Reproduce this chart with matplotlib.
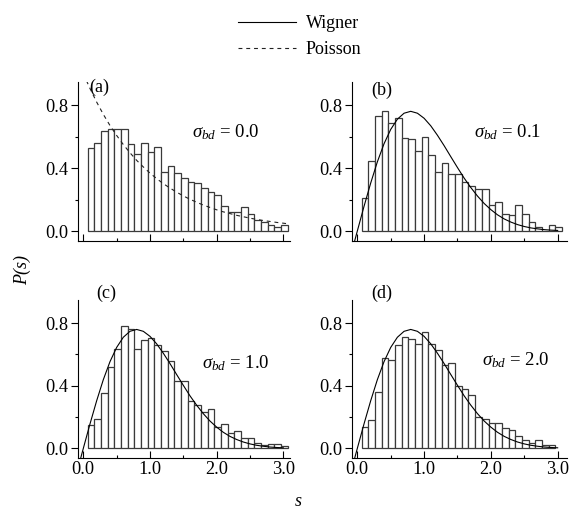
import matplotlib
matplotlib.use("Agg")
import matplotlib.pyplot as plt
from matplotlib.ticker import MultipleLocator, FormatStrFormatter
import numpy as np

plt.rcParams['font.family'] = ['Liberation Serif', 'DejaVu Serif']
plt.rcParams['mathtext.fontset'] = 'custom'
plt.rcParams['mathtext.rm'] = 'Liberation Serif'
plt.rcParams['mathtext.it'] = 'Liberation Serif:italic'

# ---- data ----
bars_a = [0.525, 0.557, 0.635, 0.645, 0.645, 0.645, 0.55, 0.49, 0.56, 0.50,
          0.535, 0.377, 0.41, 0.37, 0.34, 0.31, 0.307, 0.275, 0.245, 0.23,
          0.16, 0.123, 0.123, 0.15, 0.106, 0.068, 0.06, 0.036, 0.023, 0.04]
bars_b = [0.212, 0.446, 0.73, 0.76, 0.684, 0.718, 0.59, 0.584, 0.51, 0.60,
          0.48, 0.378, 0.435, 0.36, 0.36, 0.31, 0.287, 0.268, 0.268, 0.163,
          0.185, 0.11, 0.104, 0.166, 0.106, 0.06, 0.023, 0.0, 0.038, 0.025]
bars_c = [0.149, 0.185, 0.352, 0.518, 0.633, 0.78, 0.76, 0.633, 0.693, 0.704,
          0.66, 0.62, 0.56, 0.43, 0.43, 0.30, 0.28, 0.232, 0.254, 0.139,
          0.154, 0.096, 0.113, 0.066, 0.068, 0.036, 0.021, 0.028, 0.028, 0.015]
bars_d = [0.139, 0.18, 0.36, 0.58, 0.563, 0.66, 0.714, 0.697, 0.67, 0.744,
          0.67, 0.63, 0.535, 0.548, 0.40, 0.38, 0.34, 0.20, 0.19, 0.164,
          0.164, 0.132, 0.12, 0.08, 0.053, 0.032, 0.053, 0.02, 0.02]

curve_s = [-0.04, 0.0, 0.1, 0.2, 0.3, 0.4, 0.5, 0.6, 0.7, 0.8, 0.9, 1.0,
           1.1, 1.2, 1.3, 1.4, 1.5, 1.6, 1.7, 1.8, 1.9, 2.0, 2.1, 2.2,
           2.3, 2.4, 2.5, 2.6, 2.7, 2.8, 2.9, 3.0]
wigner = [-0.063, 0.0, 0.156, 0.304, 0.439, 0.554, 0.645, 0.710, 0.748, 0.760,
          0.748, 0.716, 0.668, 0.608, 0.542, 0.472, 0.403, 0.336, 0.276,
          0.222, 0.175, 0.136, 0.103, 0.077, 0.057, 0.041, 0.029, 0.020,
          0.014, 0.009, 0.006, 0.004]
poisson_s = [0.0, 0.1, 0.2, 0.3, 0.4, 0.5, 0.6, 0.7, 0.8, 0.9, 1.0, 1.1,
             1.2, 1.3, 1.4, 1.5, 1.6, 1.7, 1.8, 1.9, 2.0, 2.1, 2.2, 2.3,
             2.4, 2.5, 2.6, 2.7, 2.8, 2.9, 3.0, 3.07]
poisson = [1.0, 0.905, 0.819, 0.741, 0.670, 0.607, 0.549, 0.497, 0.449,
           0.407, 0.368, 0.333, 0.301, 0.273, 0.247, 0.223, 0.202, 0.183,
           0.165, 0.150, 0.135, 0.122, 0.111, 0.100, 0.091, 0.082, 0.074,
           0.067, 0.061, 0.055, 0.050, 0.046]

panel_labels = ['(a)', '(b)', '(c)', '(d)']
sigma_labels = ['0.0', '0.1', '1.0', '2.0']
x_ticks = [0.0, 1.0, 2.0, 3.0]
y_ticks = [0.0, 0.4, 0.8]

W, H = 569, 520
fig = plt.figure(figsize=(W / 100, H / 100), dpi=100)

# axes rectangles (pixels): left, right, bottom, top
rects = [(78.3, 290, 241, 81.7), (351.7, 567, 241, 81.7),
         (78.3, 290, 458.3, 300), (351.7, 567, 458.3, 300)]
xlims = [(-0.075, 3.10), (-0.084, 3.14), (-0.075, 3.10), (-0.084, 3.14)]
all_bars = [bars_a, bars_b, bars_c, bars_d]
sig_pos = [(1.625, 0.63), (1.74, 0.63), (1.775, 0.545), (1.865, 0.565)]
lab_pos = [(0.09, 0.915), (0.216, 0.89), (0.2, 0.99), (0.216, 0.99)]

bar_w = 0.1
bar_start = 0.065
handles = {}
for i in range(4):
    l, r, b, t = rects[i]
    ax = fig.add_axes([l / W, 1 - b / H, (r - l) / W, (b - t) / H])
    vals = all_bars[i]
    x = bar_start + bar_w * np.arange(len(vals))
    ax.bar(x, vals, width=bar_w, align='edge', facecolor='white',
           edgecolor='#3a3a3a', linewidth=0.9, zorder=2)
    if i == 0:
        ln, = ax.plot(poisson_s, poisson, color='#222222', lw=0.8,
                      dashes=(3.5, 3.5), zorder=3)
        handles['Poisson'] = ln
    else:
        ln, = ax.plot(curve_s, wigner, color='black', lw=0.8, zorder=3)
        handles['Wigner'] = ln
    ax.set_xlim(*xlims[i])
    ax.set_ylim(-0.063, 0.948)
    for sp in ['top', 'right']:
        ax.spines[sp].set_visible(False)
    for sp in ['left', 'bottom']:
        ax.spines[sp].set_linewidth(0.8)
    ax.set_xticks(x_ticks)
    ax.xaxis.set_minor_locator(MultipleLocator(0.5))
    ax.set_yticks(y_ticks)
    ax.yaxis.set_minor_locator(MultipleLocator(0.2))
    ax.yaxis.set_major_formatter(FormatStrFormatter('%.1f'))
    ax.xaxis.set_major_formatter(FormatStrFormatter('%.1f'))
    ax.tick_params(axis='x', which='major', direction='in', length=5, width=0.8)
    ax.tick_params(axis='x', which='minor', direction='in', length=2.5, width=0.8)
    ax.tick_params(axis='y', which='major', direction='out', length=5, width=0.8)
    ax.tick_params(axis='y', which='minor', direction='out', length=2.5, width=0.8)
    ax.tick_params(labelsize=13.2, pad=2)
    if i < 2:
        ax.tick_params(axis='x', labelbottom=False)
    ax.text(sig_pos[i][0], sig_pos[i][1],
            r'$\sigma_{bd}$' + ' = ' + sigma_labels[i],
            fontsize=13.5, va='center', ha='left')
    ax.text(lab_pos[i][0], lab_pos[i][1], panel_labels[i],
            fontsize=13, va='center', ha='left')

fig.legend([handles['Wigner'], handles['Poisson']], ['Wigner', 'Poisson'],
           loc='upper left', bbox_to_anchor=(238 / W, 1 - 15 / H),
           frameon=False, fontsize=13, handlelength=3.2, handletextpad=0.55,
           labelspacing=0.5, borderpad=0, borderaxespad=0)

fig.text(22 / W, 1 - 270 / H, 'P(s)', rotation=90, style='italic',
         fontsize=13, ha='center', va='center')
fig.text(298 / W, 1 - 502 / H, 's', style='italic', fontsize=13,
         ha='center', va='center')

fig.savefig('out.png', dpi=100)
